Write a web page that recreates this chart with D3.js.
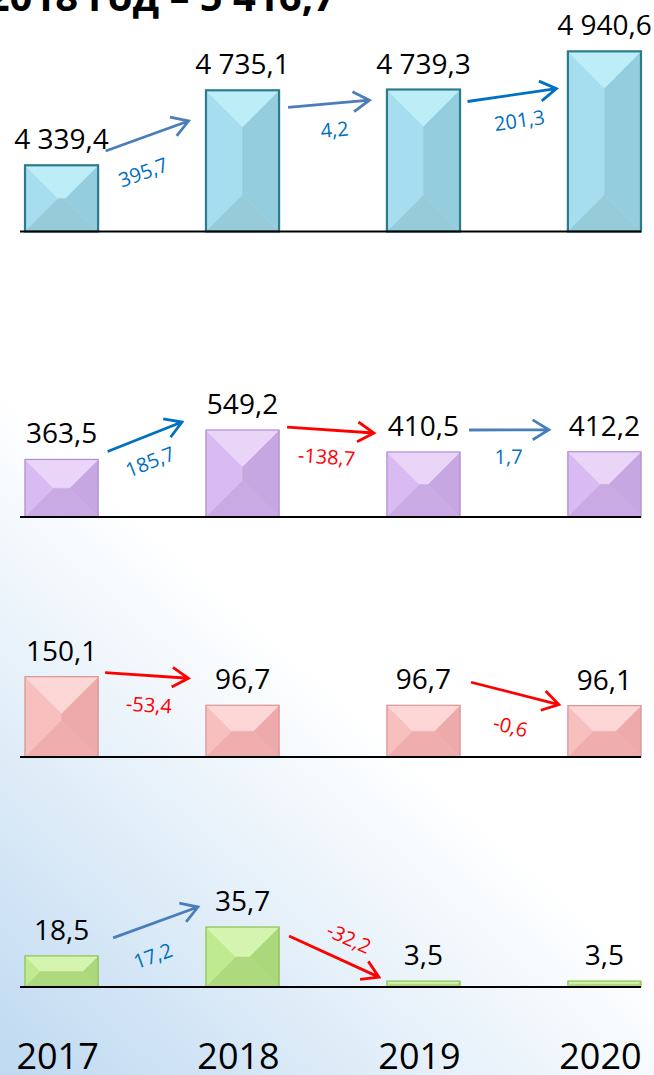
<!DOCTYPE html>
<html>
<head>
<meta charset="utf-8">
<script src="https://cdn.jsdelivr.net/npm/d3@7"></script>
<style>
  body { margin: 0; background: #fff; }
  svg { display: block; }
  text { font-family: "Open Sans", "Noto Sans", sans-serif; }
</style>
</head>
<body>
<div id="chart"></div>
<script>
const width = 654;
const height = 1075;

// data
const years = ["2017", "2018", "2019", "2020"];
const values1 = [4339.4, 4735.1, 4739.3, 4940.6];
const values2 = [363.5, 549.2, 410.5, 412.2];
const values3 = [150.1, 96.7, 96.7, 96.1];
const values4 = [18.5, 35.7, 3.5, 3.5];
const changes1 = [395.7, 4.2, 201.3];
const changes2 = [185.7, -138.7, 1.7];
const changes3 = [-53.4, null, -0.6];
const changes4 = [17.2, -32.2, null];
const titleText = "Итого за 2018 год – 5 416,7";

// layout / styles (kept apart from the data)
const baselines = [231.5, 517, 757, 987];
const domains = [[3990, 5000], [0, 600], [0, 200], [0, 40]];
const plotHeights = [191.4, 95, 107, 67.2];

const palettes = [
  {top: "#bdeef8", left: "#a6def0", right: "#94cddd", bottom: "#96cbd9", stroke: "#2d7a8d", sw: 2.2},
  {top: "#ead4f8", left: "#d9baf1", right: "#c7a7e2", bottom: "#c9aae2", stroke: "#b08ed2", sw: 1.2},
  {top: "#fdd6d6", left: "#f8bfbf", right: "#eeaaaa", bottom: "#efadad", stroke: "#d99595", sw: 1.2},
  {top: "#d5f4b0", left: "#bfea90", right: "#abd87a", bottom: "#aed97f", stroke: "#8ec156", sw: 1.2}
];

const steel = "#4a7ebb", bright = "#0070c0", red = "#ff0000";
// arrow offsets relative to the bar edges/tops: [dx0, dy0, dx1, dy1, labelN, labelT, colour]
const arrowLayout = [
  [[7.5, -14.3, -17.4, 30.7, 33, -16, steel], [9, 17, -17.5, 10.7, 26.5, 3.5, steel], [7.5, 12, -11.5, 37.3, 26.3, 3.8, bright]],
  [[9.5, -8, -24, -8, 25.3, -4.2, bright], [8, -3, -13, -19, 27.2, -2.1, red], [9, -22, -19, -22, 27, -0.5, steel]],
  [[7, -4, -17.5, -27, 29.4, 4.1, red], null, [11, -23, -9, -1, 33.2, 3.8, red]],
  [[15, -18, -8, -20, 30.6, -13.9, steel], [10, 9, -8, -4, -22.7, 6, red], null]
];

const ru = d3.formatLocale({decimal: ",", thousands: "\u00a0", grouping: [3], currency: ["", ""]});
const fmtValue = ru.format(",.1f");
const fmtChange = v => ru.format(".1f")(v).replace("−", "-");

const svg = d3.select("#chart").append("svg")
  .attr("width", width)
  .attr("height", height);

// background wash in the lower left corner
const defs = svg.append("defs");
const bg = defs.append("linearGradient")
  .attr("id", "bg")
  .attr("gradientUnits", "userSpaceOnUse")
  .attr("x1", 0).attr("y1", height)
  .attr("x2", 340).attr("y2", height - 380);
bg.append("stop").attr("offset", "0%").attr("stop-color", "#bed9f1");
bg.append("stop").attr("offset", "55%").attr("stop-color", "#e3eff9");
bg.append("stop").attr("offset", "100%").attr("stop-color", "#ffffff");

svg.append("rect")
  .attr("width", width).attr("height", height)
  .attr("fill", "url(#bg)");

svg.append("text")
  .attr("x", 336)
  .attr("y", 11)
  .attr("text-anchor", "end")
  .attr("font-size", 40)
  .attr("font-weight", "bold")
  .attr("fill", "#000")
  .text(titleText);

const x = d3.scaleBand()
  .domain(years)
  .range([25, 641])
  .paddingInner(0.596)
  .paddingOuter(0);

function bevelFaces(bx, by, w, h) {
  const d = Math.min(w, h) / 2;
  const x0 = bx, x1 = bx + w, y0 = by, y1 = by + h;
  return [
    {k: "left",   p: [[x0, y0], [x0 + d, y0 + d], [x0 + d, y1 - d], [x0, y1]]},
    {k: "right",  p: [[x1, y0], [x1 - d, y0 + d], [x1 - d, y1 - d], [x1, y1]]},
    {k: "top",    p: [[x0, y0], [x1, y0], [x1 - d, y0 + d], [x0 + d, y0 + d]]},
    {k: "bottom", p: [[x0, y1], [x1, y1], [x1 - d, y1 - d], [x0 + d, y1 - d]]}
  ];
}

function arrowPath(x0, y0, x1, y1) {
  const a = Math.atan2(y1 - y0, x1 - x0), L = 19, s = 0.55;
  const p = d3.path();
  p.moveTo(x0, y0);
  p.lineTo(x1, y1);
  p.moveTo(x1 - L * Math.cos(a - s), y1 - L * Math.sin(a - s));
  p.lineTo(x1, y1);
  p.lineTo(x1 - L * Math.cos(a + s), y1 - L * Math.sin(a + s));
  return p.toString();
}

const panels = [
  {values: values1, changes: changes1},
  {values: values2, changes: changes2},
  {values: values3, changes: changes3},
  {values: values4, changes: changes4}
];

panels.forEach((panel, pi) => {
  const base = baselines[pi];
  const y = d3.scaleLinear()
    .domain(domains[pi])
    .range([base, base - plotHeights[pi]]);
  const pal = palettes[pi];
  const g = svg.append("g").attr("class", "panel");

  const rows = panel.values.map((v, i) => ({year: years[i], value: v}));

  const bars = g.selectAll("g.bar")
    .data(rows)
    .join("g")
    .attr("class", "bar");

  bars.selectAll("path.face")
    .data(d => bevelFaces(x(d.year), y(d.value), x.bandwidth(), base - y(d.value)))
    .join("path")
    .attr("class", "face")
    .attr("d", f => d3.line()(f.p) + "Z")
    .attr("fill", f => pal[f.k])
    .attr("stroke", f => pal[f.k])
    .attr("stroke-width", 0.5);

  bars.append("rect")
    .attr("x", d => x(d.year))
    .attr("y", d => y(d.value))
    .attr("width", x.bandwidth())
    .attr("height", d => base - y(d.value))
    .attr("fill", "none")
    .attr("stroke", pal.stroke)
    .attr("stroke-width", pal.sw);

  g.append("line")
    .attr("x1", 20).attr("x2", 641)
    .attr("y1", base).attr("y2", base)
    .attr("stroke", "#000")
    .attr("stroke-width", 2);

  g.selectAll("text.value")
    .data(rows)
    .join("text")
    .attr("class", "value")
    .attr("x", d => x(d.year) + x.bandwidth() / 2)
    .attr("y", d => y(d.value) - 16)
    .attr("text-anchor", "middle")
    .attr("font-size", 28)
    .attr("fill", "#000")
    .text(d => fmtValue(d.value));

  panel.changes.forEach((c, i) => {
    if (c === null) return;
    const lay = arrowLayout[pi][i];
    const a = rows[i], b = rows[i + 1];
    const x0 = x(a.year) + x.bandwidth() + lay[0];
    const y0 = y(a.value) + lay[1];
    const x1 = x(b.year) + lay[2];
    const y1 = y(b.value) + lay[3];
    const color = lay[6];

    g.append("path")
      .attr("d", arrowPath(x0, y0, x1, y1))
      .attr("fill", "none")
      .attr("stroke", color)
      .attr("stroke-width", 2.8)
      .attr("stroke-linecap", "butt");

    const len = Math.hypot(x1 - x0, y1 - y0);
    const ux = (x1 - x0) / len, uy = (y1 - y0) / len;
    const lx = (x0 + x1) / 2 - uy * lay[4] + ux * lay[5];
    const ly = (y0 + y1) / 2 + ux * lay[4] + uy * lay[5];
    const angle = Math.atan2(uy, ux) * 180 / Math.PI;

    g.append("text")
      .attr("transform", `translate(${lx},${ly}) rotate(${angle})`)
      .attr("text-anchor", "middle")
      .attr("dy", "0.35em")
      .attr("font-size", 20)
      .attr("fill", c < 0 ? red : bright)
      .text(fmtChange(c));
  });
});

svg.selectAll("text.year")
  .data(years)
  .join("text")
  .attr("class", "year")
  .attr("x", d => x(d) + x.bandwidth() / 2 - 4)
  .attr("y", 1069)
  .attr("text-anchor", "middle")
  .attr("font-size", 36)
  .attr("fill", "#000")
  .text(d => d);
</script>
</body>
</html>
